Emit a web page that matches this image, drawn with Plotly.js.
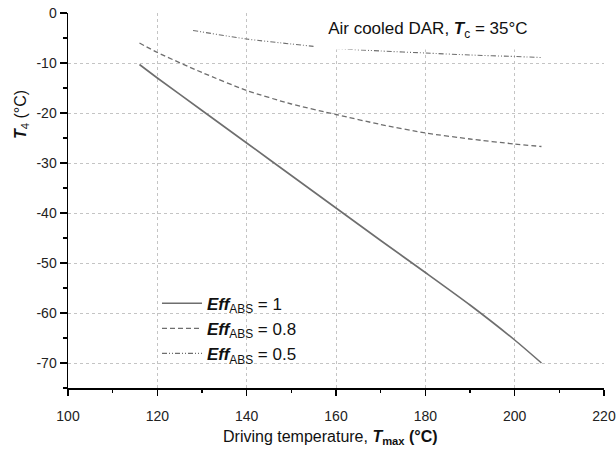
<!DOCTYPE html>
<html>
<head>
<meta charset="utf-8">
<script src="https://cdn.plot.ly/plotly-3.0.1.min.js"></script>
<style>html,body{margin:0;padding:0;background:#fff;}#chart{width:616px;height:454px;}</style>
</head>
<body>
<div id="chart"></div>
<script>
// Driving temperature T_max (°C) and minimum evaporation temperature T4 (°C)
const seriesNames = ['<b><i>Eff</i></b><sub>ABS</sub> = 1', '<b><i>Eff</i></b><sub>ABS</sub> = 0.8', '<b><i>Eff</i></b><sub>ABS</sub> = 0.5'];
const tmax_eff1 = [116, 120, 130, 140, 150, 160, 170, 180, 190, 200, 206];
const t4_eff1   = [-10.3, -13.0, -19.5, -26.0, -32.5, -39.0, -45.5, -51.9, -58.4, -65.4, -70.0];
const tmax_eff08 = [116, 120, 130, 140, 150, 160, 170, 180, 190, 200, 206];
const t4_eff08   = [-6.0, -7.9, -11.9, -15.5, -18.2, -20.3, -22.3, -24.0, -25.2, -26.2, -26.7];
const tmax_eff05 = [128, 140, 150, 160, 170, 180, 190, 200, 206];
const t4_eff05   = [-3.5, -5.2, -6.2, -7.1, -7.6, -8.0, -8.4, -8.7, -8.9];
const xTicks = [100, 120, 140, 160, 180, 200, 220];
const yTicks = [0, -10, -20, -30, -40, -50, -60, -70];

const FONT = 'Arial, "Liberation Sans", sans-serif';
const lineCol = '#6e6e6e';

const traces = [
  {x: tmax_eff1, y: t4_eff1, name: seriesNames[0], mode: 'lines', line: {color: lineCol, width: 1.6, dash: 'solid', shape: 'spline', smoothing: 0.6}},
  {x: tmax_eff08, y: t4_eff08, name: seriesNames[1], mode: 'lines', line: {color: lineCol, width: 1.3, dash: '5px,3px', shape: 'spline', smoothing: 0.6}},
  {x: tmax_eff05, y: t4_eff05, name: seriesNames[2], mode: 'lines', line: {color: lineCol, width: 1.1, dash: '5px,2px,1px,2px,1px,2px', shape: 'spline', smoothing: 0.6}}
];

const axisCommon = {
  showline: true, linecolor: '#000', linewidth: 1.5,
  ticks: 'outside', tickcolor: '#000', tickwidth: 1.3,
  showgrid: true, gridcolor: '#c4c4c4', gridwidth: 1, griddash: 'dot',
  zeroline: false,
  tickfont: {family: FONT, size: 14, color: '#222'}
};

const layout = {
  width: 616, height: 454,
  margin: {l: 68, r: 12, t: 13, b: 66},
  paper_bgcolor: '#fff', plot_bgcolor: '#fff',
  font: {family: FONT, color: '#000'},
  showlegend: true,
  legend: {
    x: 0.166, y: 0.273, xanchor: 'left', yanchor: 'top',
    bgcolor: 'rgba(0,0,0,0)', borderwidth: 0,
    font: {family: FONT, size: 17, color: '#111'},
    tracegroupgap: 0, itemwidth: 40
  },
  xaxis: Object.assign({}, axisCommon, {
    range: [100, 220], tickmode: 'array', tickvals: xTicks, ticktext: xTicks.map(String),
    ticklen: 6, ticklabelstandoff: 9,
    minor: {dtick: 10, tick0: 100, ticks: 'outside', ticklen: 3, tickwidth: 1.3, tickcolor: '#000', showgrid: false}
  }),
  yaxis: Object.assign({}, axisCommon, {
    range: [-75, 0], tickmode: 'array', tickvals: yTicks, ticktext: yTicks.map(String),
    ticklen: 7,
    minor: {dtick: 5, tick0: 0, ticks: 'outside', ticklen: 4, tickwidth: 1.3, tickcolor: '#000', showgrid: false}
  }),
  annotations: [
    {
      xref: 'paper', yref: 'paper', x: 0.4576, y: 0.9555, xanchor: 'left', yanchor: 'middle',
      text: '\u00a0\u00a0\u00a0Air cooled DAR, <b><i>T</i></b><sub>c</sub> = 35°C',
      showarrow: false, align: 'left', width: 300, height: 38, borderpad: 0,
      bgcolor: '#fff', font: {family: FONT, size: 17, color: '#111'}
    },
    {
      xref: 'paper', yref: 'paper', x: -0.087, y: 0.729, xanchor: 'center', yanchor: 'middle',
      text: '<b><i>T</i></b><sub>4</sub> (°C)', textangle: -90, showarrow: false,
      font: {family: FONT, size: 16, color: '#111'}
    },
    {
      xref: 'paper', yref: 'paper', x: 0.489, y: -0.1325, xanchor: 'center', yanchor: 'middle',
      text: 'Driving temperature, <b><i>T</i><sub>max</sub> (°C)</b>', showarrow: false,
      font: {family: FONT, size: 16, color: '#111'}
    }
  ]
};

Plotly.newPlot('chart', traces, layout, {displayModeBar: false, staticPlot: true});
</script>
</body>
</html>
